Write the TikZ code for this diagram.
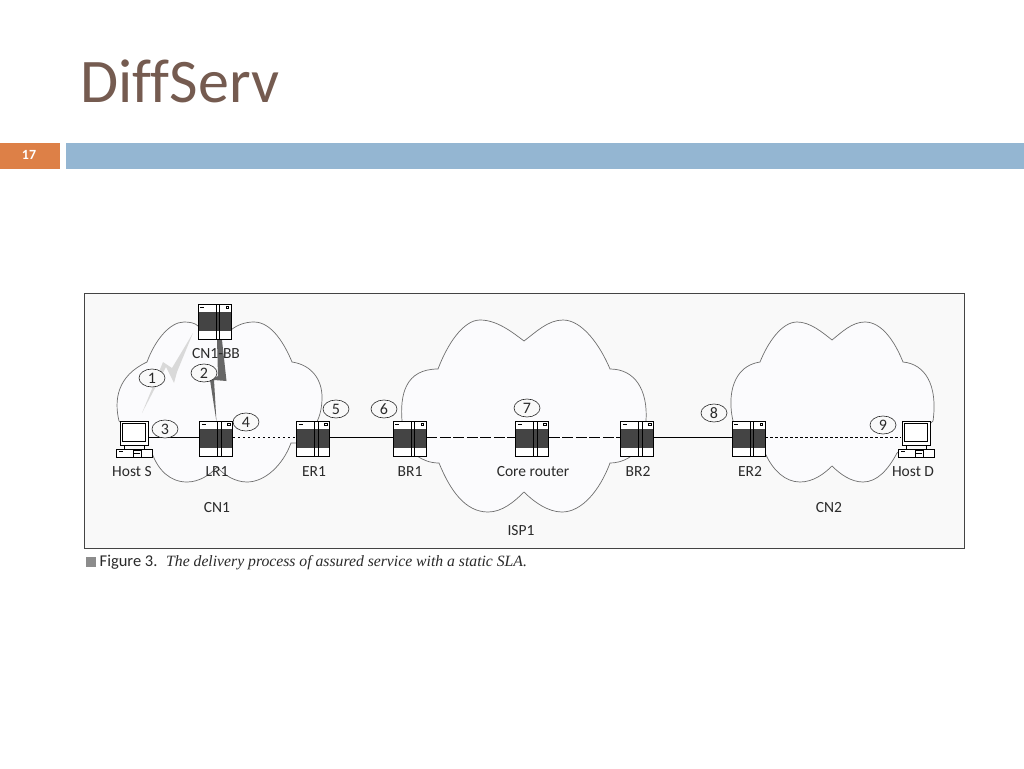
\documentclass[tikz,border=0pt]{standalone}
\usepackage{fontspec}
\setmainfont{Carlito}
\newfontfamily\titlefont[RawFeature={-liga}]{Carlito}
\newfontfamily\capserif{Liberation Serif}
\definecolor{titlec}{HTML}{755B50}
\definecolor{orangec}{HTML}{DD8047}
\definecolor{bluec}{HTML}{94B6D2}
\definecolor{panelc}{HTML}{F9F9F9}
\definecolor{cloudc}{HTML}{FBFBFD}
\definecolor{darkc}{HTML}{444444}
\definecolor{inkc}{HTML}{2A2A2A}
\definecolor{cloudl}{HTML}{6E6E6E}
\usetikzlibrary{shapes.geometric}
\tikzset{
  x=1pt,y=-1pt,
  router/.style={draw=black,line width=.8pt,fill=white,minimum width=33pt,minimum height=35pt,inner sep=0pt,
    path picture={
      \fill[darkc] (-17,-9.5) rectangle (17,9);
      \draw[line width=.8pt] (1.5,-18) -- (1.5,18);
      \draw[line width=.8pt] (5,-18) -- (5,18);
      \draw[line width=.8pt] (-14.5,-14.5) -- (-10.5,-14.5);
      \draw[line width=.7pt] (11.5,-15.5) rectangle (14,-13);
    }},
  hostbox/.style={minimum width=38pt,minimum height=37pt,inner sep=0pt,
    path picture={
      \fill[panelc] (-18,5.5) rectangle (18,11.5);
      \draw[line width=.7pt,fill=white] (-14,-18) rectangle (14,6.5);
      \draw[line width=.7pt,fill=white] (-11.5,-15.5) rectangle (11.5,2.5);
      \draw[line width=.7pt] (-10,6.5) -- (-10,9.5) (10,6.5) -- (10,9.5);
      \draw[line width=.7pt,fill=white] (-18,10) rectangle (18,18);
      \draw[line width=.7pt] (-1,11.5) rectangle (7,18);
      \draw[line width=1pt] (0,14.5) -- (6,14.5);
      \draw[line width=1pt] (-15,12) -- (-11,12);
    }},
  cloudp/.style={draw=cloudl,line width=.7pt,fill=cloudc},
  tag/.style={draw=black!85,line width=.6pt,fill=panelc,ellipse,minimum width=26pt,minimum height=18pt,inner sep=0pt,font=\fontsize{16}{16}\selectfont,text=inkc},
  lbl/.style={font=\fontsize{15.5}{15.5}\selectfont,text=inkc,inner sep=0pt,anchor=base},
  solidlink/.style={line width=.7pt,black},
  dotlink/.style={line width=.7pt,black,dash pattern=on 2.2pt off 2.8pt},
  longlink/.style={line width=.8pt,black,dash pattern=on 11pt off 2.5pt},
}
\begin{document}
\begin{tikzpicture}
\useasboundingbox (0,0) rectangle (1024,768);
\fill[white] (0,0) rectangle (1024,768);
\node[font=\titlefont\fontsize{62}{62}\selectfont,text=titlec,anchor=base west,inner sep=0pt] (title) at (80,102) {DiffServ};
\fill[orangec] (0,143) rectangle (60,168.5);
\fill[bluec] (66,143) rectangle (1024,168.5);
\node[font=\titlefont\bfseries\fontsize{14}{14}\selectfont,text=white,inner sep=0pt] (num) at (29,155) {17};
\draw[draw=darkc,line width=.9pt,fill=panelc] (84.5,293) rectangle (964,548.5);
% clouds
\draw[cloudp] (119,421) .. controls (114,400) and (117,376) .. (147,362)
  .. controls (155,340) and (170,322) .. (184,322)
  .. controls (190,322) and (195,323) .. (198,326)
  -- (231,330) .. controls (237,325) and (245,322) .. (254,322)
  .. controls (272,322) and (285,345) .. (292,362)
  .. controls (312,365) and (322,380) .. (322,397)
  .. controls (322,408) and (320,415) .. (317,422)
  -- (311,443) -- (291,443) .. controls (283,465) and (265,482) .. (247,482)
  .. controls (235,482) and (224,475) .. (217,467)
  .. controls (210,475) and (199,482) .. (187,482)
  .. controls (170,482) and (158,470) .. (152,453) -- cycle;
\draw[cloudp] (402,421) .. controls (400,395) and (405,369) .. (438,369)
  .. controls (447,345) and (463,320) .. (480,320)
  .. controls (497,320) and (512,332) .. (524,341)
  .. controls (536,332) and (548,320) .. (563,320)
  .. controls (582,320) and (600,345) .. (610,369)
  .. controls (635,369) and (648,390) .. (646,421)
  -- (630,457) .. controls (622,462) and (615,463) .. (610,463)
  .. controls (600,490) and (582,512) .. (562,512)
  .. controls (548,512) and (534,502) .. (524,492)
  .. controls (514,502) and (502,512) .. (488,512)
  .. controls (465,512) and (450,490) .. (439,463)
  .. controls (430,463) and (423,460) .. (417,456) -- cycle;
\draw[cloudp] (733,421) .. controls (727,395) and (733,366) .. (760,362)
  .. controls (768,342) and (782,322) .. (797,322)
  .. controls (810,322) and (822,332) .. (832,340)
  .. controls (842,332) and (852,322) .. (865,322)
  .. controls (882,322) and (895,342) .. (903,362)
  .. controls (925,364) and (938,385) .. (933,421)
  -- (897,453) .. controls (888,470) and (877,482) .. (863,482)
  .. controls (851,482) and (840,474) .. (832,466)
  .. controls (824,474) and (813,482) .. (800,482)
  .. controls (785,482) and (773,470) .. (766,455) -- cycle;
% bolts
\fill[black!15] (193,333) -- (177,372) -- (174,383) -- (166,367) -- (142,413) -- (163,362) -- (172,368) -- cycle;
\fill[black!60] (217,340) -- (222,340) -- (226.5,381) -- (214,380) -- (216.5,422) -- (210,380) -- (218,376) -- cycle;
% devices
\node[hostbox] (hosts) at (134,439) {};
\node[hostbox] (hostd) at (916,439) {};
\node[router] (bb) at (214.5,321.5) {};
\node[router] (lr) at (216,438.5) {};
\node[router] (er1) at (313,438.5) {};
\node[router] (br1) at (409.5,438.5) {};
\node[router] (core) at (532,438.5) {};
\node[router] (br2) at (637,438.5) {};
\node[router] (er2) at (748.5,438.5) {};
% links
\draw[solidlink] ([xshift=-4pt]hosts.east|-0,437.5) -- (lr.west|-0,437.5);
\draw[dotlink] (lr.east|-0,437.5) -- (er1.west|-0,437.5);
\draw[solidlink] (er1.east|-0,437.5) -- (br1.west|-0,437.5);
\draw[longlink] (br1.east|-0,437.5) -- (core.west|-0,437.5);
\draw[longlink] (core.east|-0,437.5) -- (br2.west|-0,437.5);
\draw[solidlink] (br2.east|-0,437.5) -- (er2.west|-0,437.5);
\draw[dotlink] (er2.east|-0,437.5) -- ([xshift=4pt]hostd.west|-0,437.5);
% tags
\node[tag] (t1) at (152,378) {1};
\node[tag] (t2) at (204,373) {2};
\node[tag] (t3) at (165,429) {3};
\node[tag] (t4) at (246,422) {4};
\node[tag] (t5) at (336,409) {5};
\node[tag] (t6) at (384,409) {6};
\node[tag] (t7) at (527,408) {7};
\node[tag] (t8) at (714,413) {8};
\node[tag] (t9) at (883,425) {9};
% labels
\node[lbl] (l0) at (216,358.5) {CN1-BB};
\node[lbl] (l1) at (132,476) {Host S};
\node[lbl] (l2) at (217,476) {LR1};
\node[lbl] (l3) at (314,476) {ER1};
\node[lbl] (l4) at (410,476) {BR1};
\node[lbl] (l5) at (533,476) {Core router};
\node[lbl] (l6) at (638,476) {BR2};
\node[lbl] (l7) at (750,476) {ER2};
\node[lbl] (l8) at (913,476) {Host D};
\node[lbl] (l9) at (217,512) {CN1};
\node[lbl] (l10) at (521,535) {ISP1};
\node[lbl] (l11) at (829,512) {CN2};
% caption
\fill[black!45] (85.5,557) rectangle (96,567);
\node[anchor=base west,inner sep=0pt,font=\fontsize{16.5}{16.5}\selectfont,text=inkc] (cap1) at (99.5,566.5) {Figure 3.};
\node[anchor=base west,inner sep=0pt,font=\capserif\itshape\fontsize{15.7}{15.7}\selectfont,text=inkc] (cap2) at (166,566.5) {The delivery process of assured service with a static SLA.};
\end{tikzpicture}
\end{document}
